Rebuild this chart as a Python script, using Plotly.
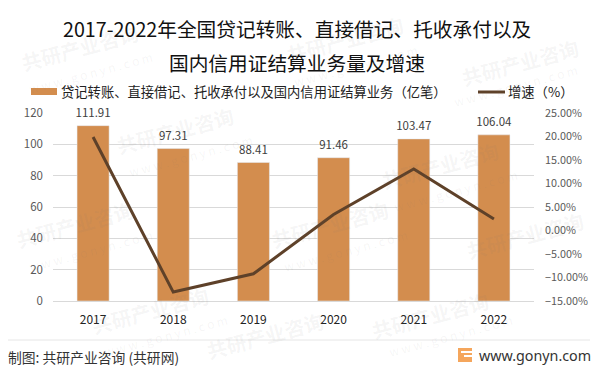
import plotly.graph_objects as go

years = ["2017", "2018", "2019", "2020", "2021", "2022"]
volume = [111.91, 97.31, 88.41, 91.46, 103.47, 106.04]
growth = [19.9, -13.1, -9.2, 3.4, 13.1, 2.45]
title_lines = ["2017-2022年全国贷记转账、直接借记、托收承付以及", "国内信用证结算业务量及增速"]
bar_name = "贷记转账、直接借记、托收承付以及国内信用证结算业务（亿笔）"
line_name = "增速（%）"
source = "制图: 共研产业咨询 (共研网)"
site = "www.gonyn.com"
FONT = "Noto Sans CJK SC"
W, H = 600, 373

def px(x): return x / W
def py(y): return 1 - y / H

fig = go.Figure()
fig.add_trace(go.Bar(x=years, y=volume, name=bar_name, marker_color="#D38D4E", width=0.4))
fig.add_trace(go.Scatter(x=years, y=volume, mode="markers+text", showlegend=False, cliponaxis=False,
                         marker=dict(size=8, opacity=0), text=[f"{v:.2f}" for v in volume],
                         textposition="top center",
                         textfont=dict(size=11.5, color="#404040", family=FONT)))
fig.add_trace(go.Scatter(x=years, y=growth, name=line_name, yaxis="y2", mode="lines",
                         line=dict(color="#5E4129", width=3)))

ann = []
def text(x, y, s, size, color="#000", anchor="center", angle=0, family=FONT):
    ann.append(dict(xref="paper", yref="paper", x=px(x), y=py(y), text=s, showarrow=False,
                    xanchor=anchor, yanchor="middle", textangle=angle,
                    font=dict(size=size, color=color, family=family)))

# watermarks
wm = "rgba(120,120,120,0.07)"
for x, y in [(80, 48), (345, 40), (520, 62), (175, 130), (440, 165), (75, 225), (330, 225), (525, 235), (150, 310), (430, 315), (265, 335)]:
    text(x, y, "<b>共研产业咨询</b>", 20, wm, angle=-15)
for x, y in [(90, 72), (355, 65), (515, 85), (190, 155), (455, 190), (90, 250), (345, 250), (165, 335), (450, 335)]:
    text(x, y, "w w w . g o n y n . c o m", 12, wm, angle=-15)

text(296.5, 28, title_lines[0], 19.7, "#111")
text(296.5, 62, title_lines[1], 19.7, "#111")
text(59, 92, bar_name, 13.3, "#222", "left")
text(506, 92, line_name, 13.3, "#222", "left")
text(6, 357, source, 13.8, "#333", "left")
text(593, 355, site, 14.3, "#333", "right", family="Noto Sans")

shapes = [
    dict(type="rect", xref="paper", yref="paper", x0=px(31), x1=px(57), y0=py(95), y1=py(88),
         fillcolor="#D38D4E", line_width=0),
    dict(type="line", xref="paper", yref="paper", x0=px(478), x1=px(505), y0=py(92), y1=py(92),
         line=dict(color="#5E4129", width=3)),
    dict(type="line", xref="paper", yref="paper", x0=px(8), x1=px(590), y0=py(340), y1=py(340),
         line=dict(color="#E6E6E6", width=1)),
    dict(type="rect", xref="paper", yref="paper", x0=px(458), x1=px(472), y0=py(362), y1=py(348),
         fillcolor="#F5A65C", line_width=0),
    dict(type="rect", xref="paper", yref="paper", x0=px(461), x1=px(472), y0=py(353), y1=py(351),
         fillcolor="#FFFFFF", line_width=0),
    dict(type="rect", xref="paper", yref="paper", x0=px(464), x1=px(472), y0=py(357), y1=py(355),
         fillcolor="#FFFFFF", line_width=0),
]

fig.update_layout(
    width=W, height=H, autosize=False, showlegend=False, bargap=0.6,
    paper_bgcolor="white", plot_bgcolor="white",
    margin=dict(l=0, r=0, t=0, b=0, pad=0, autoexpand=False), font=dict(family=FONT),
    annotations=ann, shapes=shapes,
    xaxis=dict(domain=[px(53), px(534)], type="category", showgrid=False, ticks="", ticklen=0,
               showline=True, linecolor="#D9D9D9", linewidth=1, zeroline=False, ticklabelstandoff=8,
               tickfont=dict(size=12, color="#222", family=FONT)),
    yaxis=dict(domain=[py(301), py(113)], range=[0, 120], dtick=20, gridcolor="#D9D9D9", gridwidth=1,
               zeroline=False, showline=False, ticks="", ticklabelstandoff=9,
               tickfont=dict(size=11.5, color="#595959", family=FONT)),
    yaxis2=dict(overlaying="y", side="right", range=[-15, 25], dtick=5, tickformat=".2f", ticksuffix="%",
                showgrid=False, zeroline=False, showline=False, ticks="", ticklabelstandoff=10,
                tickfont=dict(size=10.8, color="#595959", family=FONT)),
)
fig.write_html("out.html", config={"displayModeBar": False},
               post_script="document.body.style.margin='0';document.documentElement.style.overflow='hidden';")
